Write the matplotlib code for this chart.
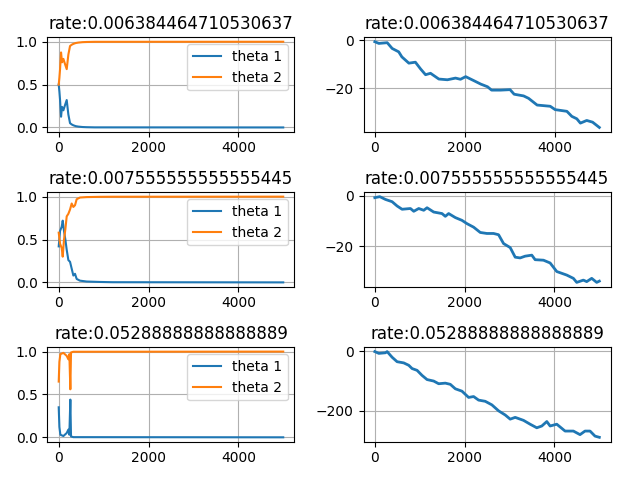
import matplotlib
matplotlib.use("Agg")
from matplotlib import pyplot as plt
from matplotlib.ticker import MultipleLocator

RATES = ["0.006384464710530637", "0.007555555555555445", "0.05288888888888889"]

# theta curves
T1_X = [0, 15, 30, 52, 74, 104, 140, 178, 215, 252, 290, 326, 380, 437, 530, 622, 800, 5000]
T1_THETA1 = [0.5, 0.42, 0.32, 0.125, 0.24, 0.2, 0.26, 0.32, 0.15, 0.05, 0.035, 0.025, 0.015, 0.01, 0.005, 0.003, 0.001, 0.0]
T1_THETA2 = [0.5, 0.58, 0.68, 0.875, 0.76, 0.8, 0.74, 0.68, 0.85, 0.95, 0.965, 0.975, 0.985, 0.99, 0.995, 0.997, 0.999, 1.0]

T2_X = [0, 30, 67, 89, 118, 148, 178, 215, 252, 289, 326, 363, 400, 474, 622, 918, 1200, 5000]
T2_THETA1 = [0.42, 0.6, 0.65, 0.72, 0.6, 0.5, 0.38, 0.26, 0.24, 0.16, 0.08, 0.1, 0.04, 0.02, 0.01, 0.005, 0.002, 0.0]
T2_THETA2 = [0.58, 0.45, 0.4, 0.3, 0.5, 0.62, 0.77, 0.8, 0.85, 0.92, 0.88, 0.9, 0.97, 0.99, 0.995, 0.998, 0.999, 1.0]

T3_X = [0, 15, 37, 104, 178, 215, 237, 259, 274, 326, 5000]
T3_THETA1 = [0.35, 0.12, 0.03, 0.015, 0.05, 0.09, 0.03, 0.44, 0.01, 0.002, 0.0]
T3_THETA2 = [0.65, 0.88, 0.97, 0.985, 0.95, 0.91, 0.97, 0.56, 0.99, 0.998, 1.0]

# cumulative curves
C1_X = [0, 89, 275, 385, 530, 600, 755, 900, 1015, 1125, 1235, 1420, 1610, 1790, 1900, 2015,
        2200, 2350, 2500, 2590, 2790, 3000, 3090, 3300, 3410, 3600, 3890, 4000, 4260, 4370,
        4480, 4560, 4700, 4830, 4980]
C1_Y = [-0.7, -1.4, -1.1, -3.5, -4.9, -7.0, -9.6, -9.2, -12.0, -14.4, -13.8, -16.2, -16.5, -15.8,
        -16.3, -15.2, -16.9, -18.3, -19.4, -20.8, -20.8, -20.6, -22.5, -23.2, -24.2, -27.0,
        -27.5, -28.9, -29.6, -31.7, -32.7, -34.5, -33.4, -34.1, -36.3]

C2_X = [0, 110, 237, 385, 496, 607, 793, 867, 978, 1089, 1163, 1311, 1496, 1570, 1644, 1793,
        1941, 2052, 2200, 2348, 2496, 2644, 2756, 2867, 3015, 3126, 3237, 3348, 3496, 3570,
        3756, 3904, 4052, 4274, 4422, 4496, 4644, 4719, 4830, 4941, 5000]
C2_Y = [-0.7, -0.3, -1.4, -2.3, -4.0, -5.3, -5.0, -6.1, -5.0, -5.7, -4.7, -6.4, -7.0, -8.1,
        -7.0, -8.6, -9.7, -11.0, -12.4, -14.5, -14.9, -14.9, -15.4, -18.9, -20.5, -24.3,
        -24.6, -23.9, -23.5, -25.3, -25.5, -26.6, -30.0, -31.4, -32.7, -34.3, -33.4, -34.0,
        -32.7, -34.3, -33.8]

C3_X = [0, 89, 237, 274, 385, 496, 644, 755, 830, 941, 1052, 1163, 1311, 1422, 1570, 1681,
        1793, 1941, 2089, 2200, 2311, 2459, 2607, 2756, 2904, 3015, 3126, 3311, 3459, 3607,
        3719, 3830, 3904, 4052, 4237, 4422, 4570, 4681, 4793, 4904, 5000]
C3_Y = [-1, -7, -5, -1, -20, -35, -39, -47, -58, -64, -81, -95, -100, -109, -107, -111, -126,
        -134, -155, -152, -164, -168, -180, -200, -214, -228, -222, -232, -245, -257, -251,
        -236, -251, -245, -268, -268, -280, -268, -268, -285, -289]

theta_x = [T1_X, T2_X, T3_X]
theta1 = [T1_THETA1, T2_THETA1, T3_THETA1]
theta2 = [T1_THETA2, T2_THETA2, T3_THETA2]
cum_x = [C1_X, C2_X, C3_X]
cum_y = [C1_Y, C2_Y, C3_Y]

fig, axes = plt.subplots(3, 2, figsize=(6.4, 4.8), dpi=100)
for i, rate in enumerate(RATES):
    ax = axes[i][0]
    ax.plot(theta_x[i], theta1[i], label="theta 1")
    ax.plot(theta_x[i], theta2[i], label="theta 2")
    ax.set_title("rate:" + rate)
    ax.xaxis.set_major_locator(MultipleLocator(2000))
    ax.grid()
    ax.legend(loc="upper right")

    ax = axes[i][1]
    ax.plot(cum_x[i], cum_y[i], lw=2)
    ax.set_title("rate:" + rate)
    ax.xaxis.set_major_locator(MultipleLocator(2000))
    ax.grid()

fig.subplots_adjust(left=0.0742, right=0.954, top=0.922, bottom=0.080,
                    wspace=0.28, hspace=0.643)
fig.savefig("out.png")
